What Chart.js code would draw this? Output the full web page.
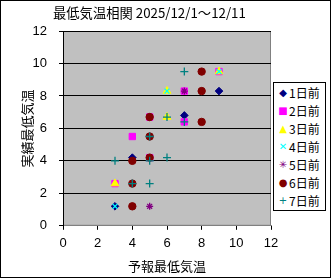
<!DOCTYPE html>
<html>
<head>
<meta charset="utf-8">
<script src="https://cdn.jsdelivr.net/npm/chart.js@4"></script>
<style>
  html, body { margin:0; padding:0; background:#fff; }
  #wrap { position:relative; width:331px; height:278px; }
  #frame { position:absolute; left:0; top:0; width:331px; height:278px; box-sizing:border-box; border:1px solid #000; pointer-events:none; }
  #title { position:absolute; left:53px; top:4px; white-space:nowrap; line-height:18px;
    font-family:"Noto Sans CJK JP", sans-serif; font-size:13.3px; color:#000; }
  #legend { position:absolute; left:273px; top:82px; width:53px; height:129px; box-sizing:border-box;
    border:1px solid #000; background:#fff; padding:1px 0 0 3px;
    font-family:"Noto Sans CJK JP", sans-serif; font-size:12px; color:#000; }
  #legend div { height:18px; line-height:18px; overflow:hidden; white-space:nowrap; display:flex; align-items:center; }
  #legend .m { display:inline-block; width:12px; text-align:center; font-family:"DejaVu Sans", sans-serif; font-size:10px; line-height:18px; }
</style>
</head>
<body>
<div id="wrap">
  <canvas id="chart" width="331" height="278"></canvas>
  <div id="title">最低気温相関 2025/12/1～12/11</div>
  <div id="legend"></div>
  <div id="frame"></div>
</div>
<script>
// series labels and styles
const seriesNames = ['1日前','2日前','3日前','4日前','5日前','6日前','7日前'];
const seriesColors = ['#000080','#ff00ff','#ffff00','#00ffff','#800080','#800000','#008080'];
const legendMarks = ['◆','■','▲','✕','✳','●','+'];

// forecast (x) / actual (y) per lead time
const fc1 = [9, 7, 4, 3];
const ac1 = [8.3, 6.8, 4.2, 1.2];
const fc2 = [9, 7, 5, 7, 4, 5, 3];
const ac2 = [9.5, 8.3, 6.7, 6.4, 5.5, 4.2, 2.6];
const fc3 = [9, 6, 6, 3];
const ac3 = [9.5, 8.3, 6.7, 2.6];
const fc4 = [9, 6, 8, 3];
const ac4 = [9.5, 8.3, 6.4, 1.2];
const fc5 = [7, 5, 5, 5];
const ac5 = [8.3, 6.7, 5.5, 1.2];
const fc6 = [8, 8, 5, 8, 5, 4, 5, 4, 4];
const ac6 = [9.5, 8.3, 6.7, 6.4, 5.5, 4.0, 4.2, 2.6, 1.2];
const fc7 = [7, 6, 7, 5, 3, 6, 5, 4, 5];
const ac7 = [9.5, 6.7, 6.4, 5.5, 4.0, 4.2, 4.0, 2.6, 2.6];

const axisTicks = [0, 2, 4, 6, 8, 10, 12];

const fcs = [fc1, fc2, fc3, fc4, fc5, fc6, fc7];
const acs = [ac1, ac2, ac3, ac4, ac5, ac6, ac7];
const styles = ['rectRot','rect','triangle','crossRot','star','circle','cross'];
const radii = [3.8, 4.5, 4.5, 3.5, 3.5, 3.7, 4];

const datasets = seriesNames.map((name, i) => ({
  label: name,
  order: seriesNames.length - i,   // later series drawn on top
  data: fcs[i].map((x, j) => ({ x: x, y: acs[i][j] })),
  pointStyle: styles[i],
  pointRadius: radii[i],
  backgroundColor: seriesColors[i],
  borderColor: seriesColors[i],
  borderWidth: (i === 3 || i === 4 || i === 6) ? 1.3 : 1,
}));

// legend
const leg = document.getElementById('legend');
seriesNames.forEach((name, i) => {
  const row = document.createElement('div');
  row.innerHTML = '<span class="m" style="color:' + seriesColors[i] + '">' + legendMarks[i] + '</span>' + name;
  leg.appendChild(row);
});

const plotBg = {
  id: 'plotBg',
  beforeDraw(chart) {
    const { ctx, chartArea: a } = chart;
    ctx.save();
    ctx.fillStyle = '#c0c0c0';
    ctx.fillRect(a.left, a.top, a.right - a.left, a.bottom - a.top);
    ctx.strokeStyle = '#808080';
    ctx.lineWidth = 1;
    ctx.strokeRect(a.left + 0.5, a.top + 0.5, a.right - a.left - 1, a.bottom - a.top - 1);
    ctx.restore();
  }
};

const jp = '"Noto Sans CJK JP", sans-serif';
const num = '"Liberation Sans", Arial, sans-serif';

new Chart(document.getElementById('chart'), {
  type: 'scatter',
  data: { datasets },
  options: {
    responsive: false,
    animation: false,
    layout: { padding: { top: 31, right: 60, left: 4, bottom: 4 } },
    plugins: {
      legend: { display: false },
      tooltip: { enabled: false }
    },
    scales: {
      x: {
        type: 'linear', min: 0, max: 12,
        afterBuildTicks: s => { s.ticks = axisTicks.map(v => ({ value: v })); },
        grid: { drawOnChartArea: false, color: '#000', tickLength: 4 },
        border: { color: '#808080' },
        ticks: { color: '#000', font: { family: num, size: 13 }, padding: 6, maxRotation: 0 },
        title: { display: true, text: '予報最低気温', color: '#000', font: { family: jp, size: 13 }, padding: { top: 1, bottom: 0 } }
      },
      y: {
        type: 'linear', min: 0, max: 12,
        afterBuildTicks: s => { s.ticks = axisTicks.map(v => ({ value: v })); },
        afterFit: s => { s.width = 59; },
        grid: { color: '#000', tickLength: 4 },
        border: { color: '#000' },
        ticks: { color: '#000', font: { family: num, size: 13 }, padding: 12 },
        title: { display: true, text: '実績最低気温', color: '#000', font: { family: jp, size: 13 }, padding: { top: 15, bottom: 2 } }
      }
    }
  },
  plugins: [plotBg]
});
</script>
</body>
</html>
